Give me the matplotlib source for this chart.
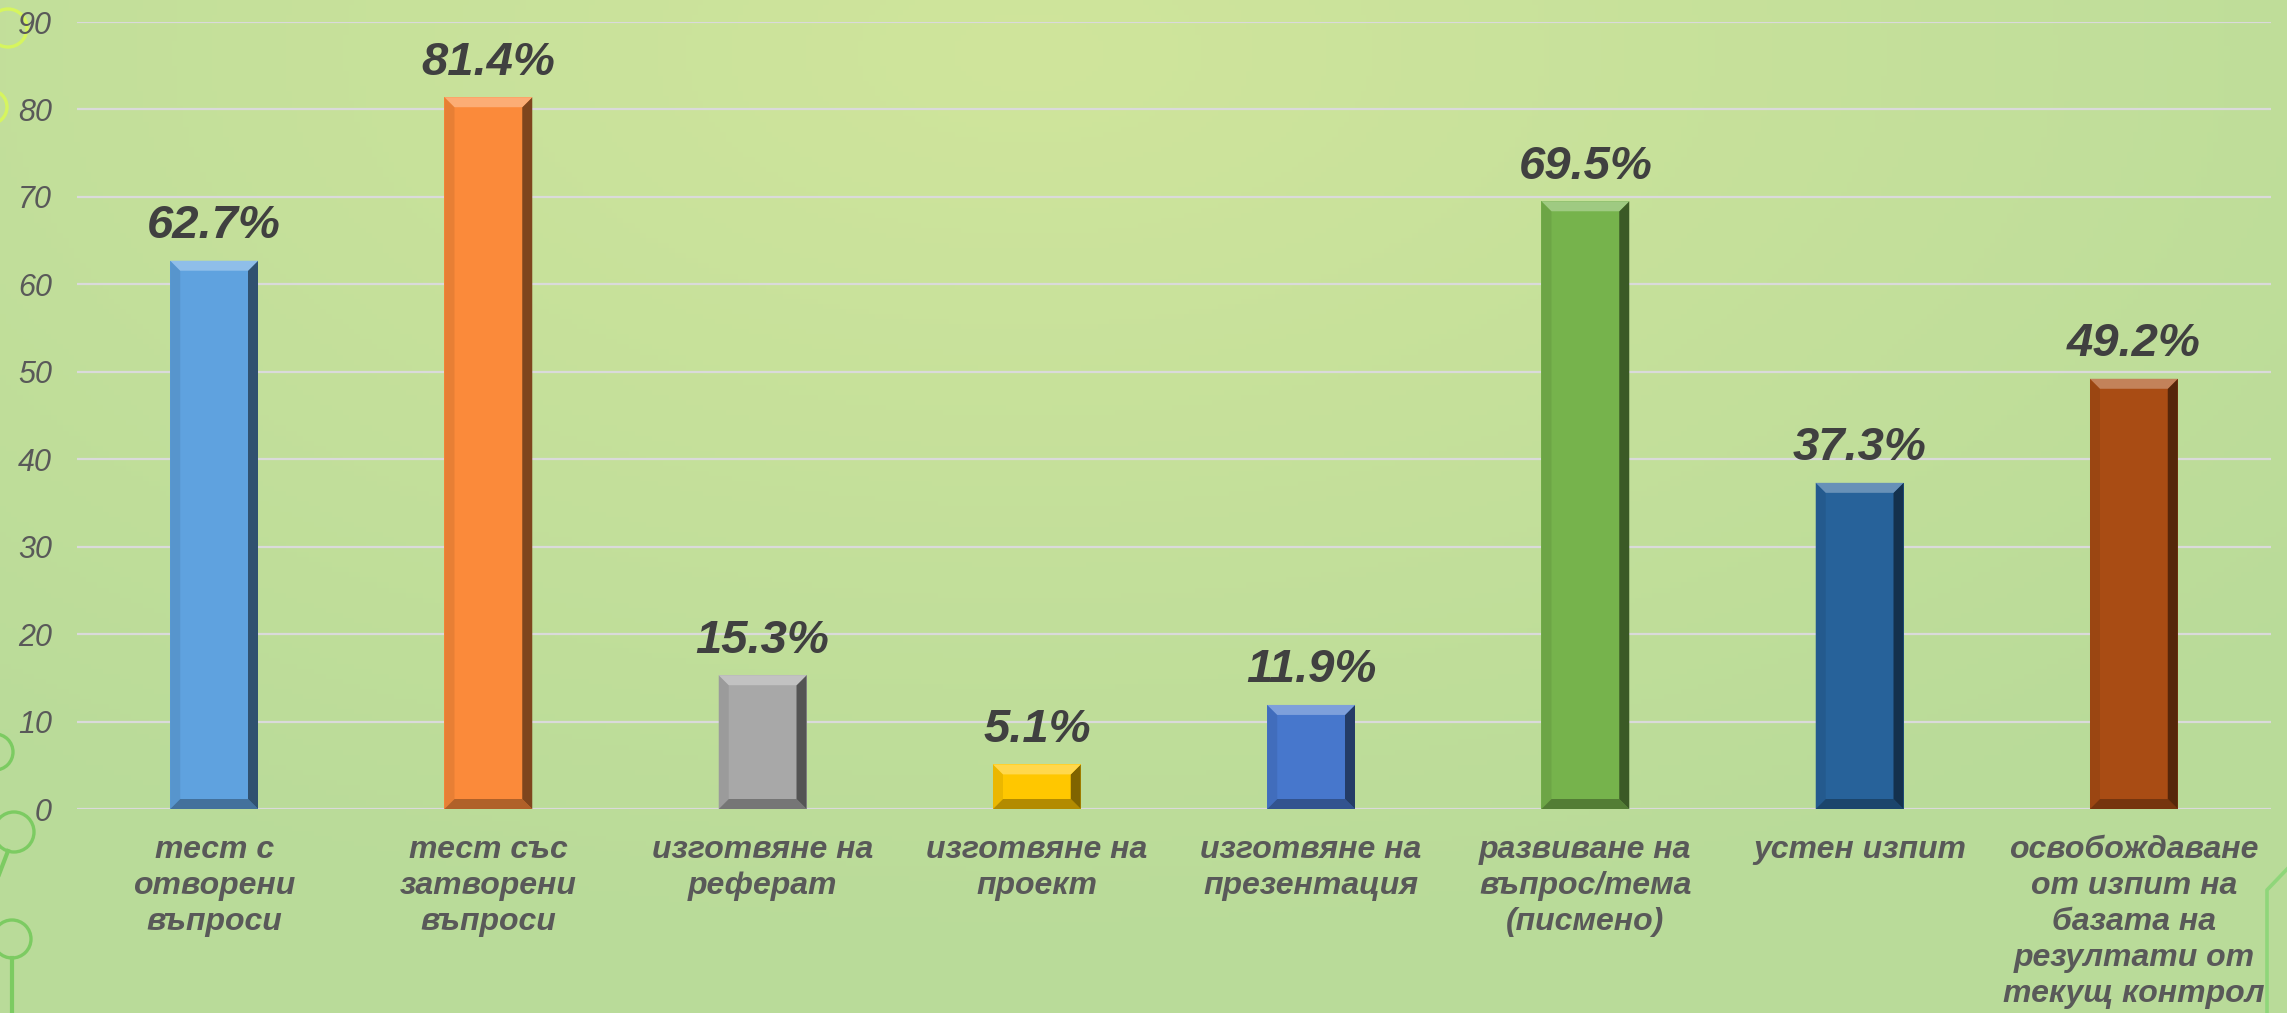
import numpy as np
import matplotlib
matplotlib.use("Agg")
import matplotlib.pyplot as plt
from matplotlib.colors import to_rgb
from matplotlib.patches import Polygon, Circle

# data
categories = [
    "тест с\nотворени\nвъпроси",
    "тест със\nзатворени\nвъпроси",
    "изготвяне на\nреферат",
    "изготвяне на\nпроект",
    "изготвяне на\nпрезентация",
    "развиване на\nвъпрос/тема\n(писмено)",
    "устен изпит",
    "освобождаване\nот изпит на\nбазата на\nрезултати от\nтекущ контрол",
]
values = [62.7, 81.4, 15.3, 5.1, 11.9, 69.5, 37.3, 49.2]
bar_colors = ["#5fa2df", "#fb8a3a", "#a8a8a8", "#ffc700",
              "#4777cc", "#76b34c", "#27629a", "#a94c14"]
yticks = [0, 10, 20, 30, 40, 50, 60, 70, 80, 90]

plt.rcParams['font.family'] = ['Liberation Sans', 'DejaVu Sans']

W, H = 2287, 1013
fig = plt.figure(figsize=(W / 100, H / 100), dpi=100)

# background gradient
bg = fig.add_axes([0, 0, 1, 1], zorder=-10)
yy, xx = np.mgrid[0:1:200j, 0:1:400j]
d = np.sqrt(((xx - 0.45) * 1.2) ** 2 + ((yy - 0.05) * 1.0) ** 2)
d = np.clip(d / 0.9, 0, 1)
c_in = np.array(to_rgb("#d0e59c"))
c_out = np.array(to_rgb("#b9db99"))
img = c_in[None, None, :] * (1 - d[..., None]) + c_out[None, None, :] * d[..., None]
bg.imshow(img, extent=[0, W, H, 0], aspect="auto")
bg.set_xlim(0, W)
bg.set_ylim(H, 0)
bg.axis("off")

# circuit-like decorations at the edges
deco_y = "#d6f55e"
deco_g = "#7ccb62"
for (cx, cy, r, col) in [(8, 28, 19, deco_y),
                         (-10, 107, 17, deco_y),
                         (-5, 752, 18, deco_g),
                         (14, 832, 20, deco_g),
                         (12, 939, 19, deco_g)]:
    bg.add_patch(Circle((cx, cy), r, fill=False, ec=col, lw=2.4))
bg.plot([12, 12], [958, 1013], color=deco_g, lw=3)
bg.plot([8, -5], [851, 885], color=deco_g, lw=3)
bg.plot([2267, 2267, 2290], [1013, 890, 866], color="#8fd67a", lw=2.6)

ax = fig.add_axes([77 / W, 1 - 809 / H, (2271 - 77) / W, (809 - 22) / H])
ax.set_facecolor("none")
x = np.arange(len(values))
ax.set_xlim(-0.5, len(values) - 0.5)
ax.set_ylim(0, 90)
ax.set_yticks(yticks)
ax.yaxis.grid(True, color="#dadada", lw=1.6)
ax.set_axisbelow(True)
for s in ax.spines.values():
    s.set_visible(False)
ax.tick_params(axis="both", length=0)
ax.tick_params(axis="y", pad=18)
ax.set_yticklabels([str(t) for t in yticks], fontsize=22, style="italic",
                   color="#595959")
ax.set_xticks(x)
ax.set_xticklabels(categories, fontsize=23, style="italic", weight="bold",
                   color="#595959", linespacing=1.26, va="top")
ax.tick_params(axis="x", pad=19)

bars = ax.bar(x, values, width=0.32, color=bar_colors, zorder=3)


def mix(c, other, t):
    c = np.array(to_rgb(c))
    o = np.array(to_rgb(other))
    return tuple(c * (1 - t) + o * t)


# bevel effect on each bar
p0 = ax.transData.transform((0, 0))
p1 = ax.transData.transform((1, 1))
bx = 10 / (p1[0] - p0[0])
by = 10 / (p1[1] - p0[1])
for b, col in zip(bars, bar_colors):
    x0, w, h = b.get_x(), b.get_width(), b.get_height()
    x1 = x0 + w
    top = [(x0, h), (x1, h), (x1 - bx, h - by), (x0 + bx, h - by)]
    right = [(x1, h), (x1, 0), (x1 - bx, by), (x1 - bx, h - by)]
    bottom = [(x0, 0), (x1, 0), (x1 - bx, by), (x0 + bx, by)]
    left = [(x0, 0), (x0, h), (x0 + bx, h - by), (x0 + bx, by)]
    ax.add_patch(Polygon(left, closed=True, color=mix(col, "black", 0.08), lw=0, zorder=4))
    ax.add_patch(Polygon(bottom, closed=True, color=mix(col, "black", 0.3), lw=0, zorder=4))
    ax.add_patch(Polygon(right, closed=True, color=mix(col, "black", 0.5), lw=0, zorder=4))
    ax.add_patch(Polygon(top, closed=True, color=mix(col, "white", 0.3), lw=0, zorder=4))
    ax.annotate(f"{h:.1f}%", (b.get_x() + w / 2, h), xytext=(0, 9),
                textcoords="offset points", ha="center", va="bottom",
                fontsize=34, style="italic", weight="bold", color="#404040",
                zorder=5)

fig.savefig("out.png", dpi=100)
